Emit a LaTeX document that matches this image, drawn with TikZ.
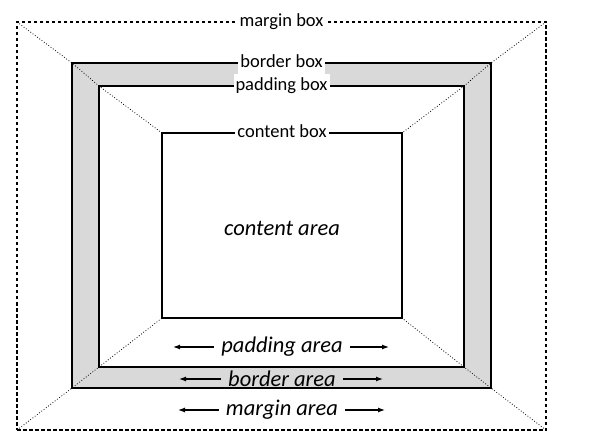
\documentclass[tikz,border=0pt]{standalone}
\usepackage{fontspec}
\setmainfont{Carlito}
\usetikzlibrary{arrows.meta}

\begin{document}
\begin{tikzpicture}[
    x=1pt, y=-1pt,
    layer/.style={rectangle, inner sep=0pt, outer sep=0pt},
    boxlabel/.style={fill=white, inner xsep=2pt, inner ysep=3pt,
                     text height=13pt, text depth=4.5pt,
                     font=\fontsize{18.5}{18.5}\selectfont},
    arealabel/.style={inner sep=0pt, font=\fontsize{22.5}{22.5}\selectfont\itshape},
    diag/.style={dotted, line width=0.8pt},
    arrow/.style={-{Latex[length=7pt,width=5pt]}, line width=1.2pt}
]
\useasboundingbox (0,0) rectangle (594,446);

% the four boxes, outside in
\node[layer, draw, line width=2pt, fill=black!15,
      minimum width=419pt, minimum height=325pt] (border) at (281.5,225.5) {};
\node[layer, draw, line width=1.5pt, fill=white,
      minimum width=365pt, minimum height=281pt] (padding) at (281.5,226.5) {};
\node[layer, draw, line width=1.5pt,
      minimum width=240pt, minimum height=185pt] (content) at (282,225.5) {};
\node[layer, draw, line width=1.3pt, dash pattern=on 3.5pt off 2.5pt,
      minimum width=529pt, minimum height=408pt] (margin) at (281.5,226) {};

% corner diagonals
\foreach \corner in {north west, north east, south west, south east}
  \draw[diag] (margin.\corner) -- (border.\corner) -- (padding.\corner) -- (content.\corner);

% box names
\node[boxlabel] (marginbox) at (margin.north) {margin box};
\node[boxlabel] (borderbox) at (border.north) {border box};
\node[boxlabel] (paddingbox) at (padding.north) {padding box};
\node[boxlabel] (contentbox) at (content.north) {content box};

% area names
\node[arealabel] (contentarea) at (282,228) {content area};
\node[arealabel] (paddingarea) at (282,347) {padding area};
\node[arealabel] (borderarea) at (282,379) {border area};
\node[arealabel] (marginarea) at (282,410) {margin area};

\coordinate (padL) at (paddingarea.west -| 173,0);
\coordinate (padR) at (paddingarea.east -| 389,0);
\coordinate (borL) at (borderarea.west -| 179,0);
\coordinate (borR) at (borderarea.east -| 383,0);
\coordinate (marL) at (marginarea.west -| 178,0);
\coordinate (marR) at (marginarea.east -| 385,0);

\draw[arrow] ([xshift=-7pt]paddingarea.west) -- (padL);
\draw[arrow] ([xshift=7pt]paddingarea.east) -- (padR);
\draw[arrow] ([xshift=-7pt]borderarea.west) -- (borL);
\draw[arrow] ([xshift=7pt]borderarea.east) -- (borR);
\draw[arrow] ([xshift=-7pt]marginarea.west) -- (marL);
\draw[arrow] ([xshift=7pt]marginarea.east) -- (marR);
\end{tikzpicture}
\end{document}
